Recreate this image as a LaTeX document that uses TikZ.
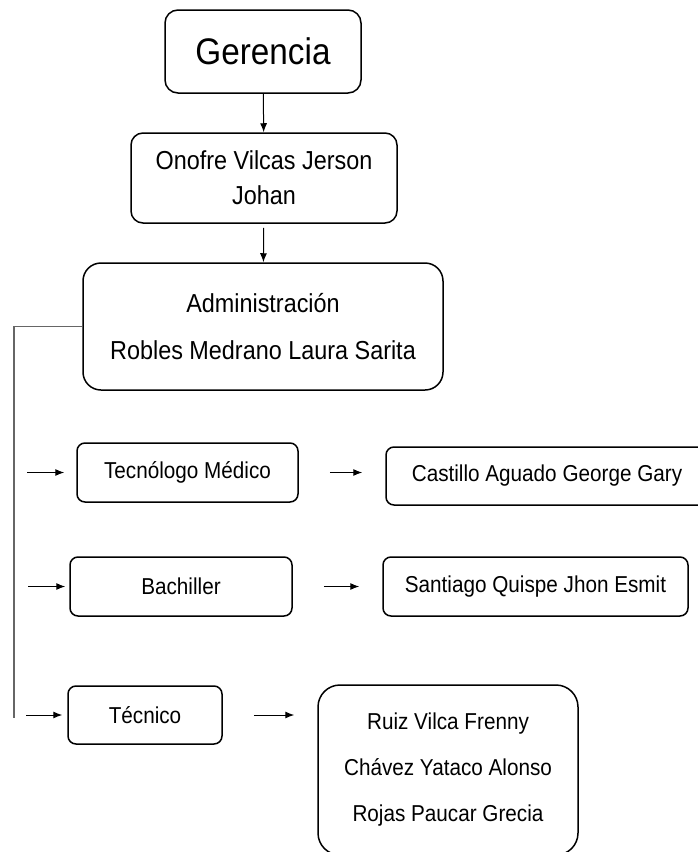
\documentclass[tikz,border=0pt]{standalone}
\usepackage{fontspec}
\setmainfont{Liberation Sans}[FakeStretch=0.9]
\usetikzlibrary{arrows.meta,calc}
\tikzset{>=stealth}
\tikzstyle{line} = [draw, line width=1pt, -{Latex[length=9pt,width=7pt]}]

\begin{document}
\begin{tikzpicture}[x=1pt, y=-1pt,
		box/.style={draw, line width=1.5pt, rounded corners=8pt, inner sep=0pt,
			align=center, font=\fontsize{23}{46}\selectfont},
		gap/.style={shorten <=31pt, shorten >=23pt}]
		\useasboundingbox (0,0) rectangle (698,852);
		\clip (0,0) rectangle (698,852);
		\node [box, minimum width=196pt, minimum height=83pt, rounded corners=13pt,
			font=\fontsize{37}{44}\selectfont] (geren) at (263,51.5) {Gerencia};
		\node [box, minimum width=266pt, minimum height=90pt, rounded corners=12pt,
			font=\fontsize{26}{35}\selectfont] (onofre) at (264,178) {Onofre Vilcas Jerson\\Johan};
		\node [box, minimum width=360pt, minimum height=127pt, rounded corners=18pt,
			font=\fontsize{26}{47}\selectfont] (admin) at (263,326.5) {Administración\\Robles Medrano Laura Sarita};
		\node [box, minimum width=221pt, minimum height=59pt] (tecno) at (187.5,472.5) {Tecnólogo Médico};
		\node [box, minimum width=322pt, minimum height=58pt] (castillo) at (547,476) {Castillo Aguado George Gary};
		\node [box, minimum width=222pt, minimum height=59pt] (bach) at (181,586.5) {Bachiller};
		\node [box, minimum width=305pt, minimum height=59pt] (santiago) at (535.5,586.5) {Santiago Quispe Jhon Esmit};
		\node [box, minimum width=154pt, minimum height=58pt] (tecnico) at (145,715) {Técnico};
		\node [box, minimum width=260pt, minimum height=170pt, rounded corners=22pt] (grupo) at (448,770)
			{Ruiz Vilca Frenny\\Chávez Yataco Alonso\\Rojas Paucar Grecia};
		\coordinate (bus) at (14,718);
		%% Links
		\path [line] (geren) to (onofre);
		\path [line, shorten <=4pt] (onofre) to (admin);
		\draw [line width=1.3pt, black!60] (admin.west) -| (bus);
		\path [line, shorten <=13pt, shorten >=12pt] (bus |- tecno.west) to (tecno.west);
		\path [line, shorten <=14pt, shorten >=4pt] (bus |- bach.west) to (bach.west);
		\path [line, shorten <=12pt, shorten >=5pt] (bus |- tecnico.west) to (tecnico.west);
		\path [line, gap] (tecno.east) to (tecno.east -| castillo.west);
		\path [line, gap] (bach.east) to (bach.east -| santiago.west);
		\path [line, gap] (tecnico.east) to (tecnico.east -| grupo.west);
\end{tikzpicture}
\end{document}
